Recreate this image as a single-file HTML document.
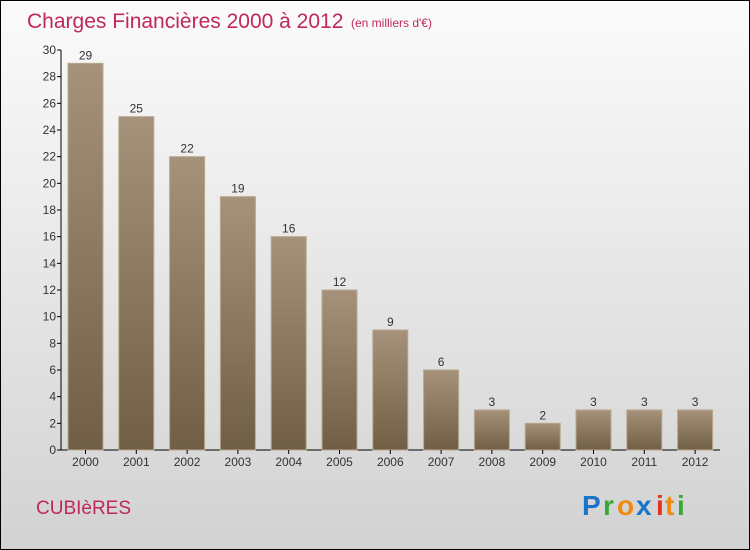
<!DOCTYPE html>
<html><head><meta charset="utf-8"><style>
body{margin:0;}
#wrap{position:relative;width:748px;height:548px;border:1px solid #000;background:linear-gradient(#fbfbfb,#d2d2d2);font-family:"Liberation Sans",sans-serif;overflow:hidden;}
</style></head><body>
<div id="wrap">
<svg width="748" height="548" viewBox="1 1 748 548">
<defs><linearGradient id="bg" x1="0" y1="0" x2="0" y2="1"><stop offset="0" stop-color="#a6927a"/><stop offset="1" stop-color="#705f45"/></linearGradient></defs>
<text x="27" y="28" font-size="21" fill="#c0275a">Charges Financières 2000 à 2012</text>
<text x="351" y="27" font-size="12" fill="#c0275a">(en milliers d'€)</text>
<g id="plot"></g>
<text x="36" y="514" font-size="19" fill="#c0275a">CUBIèRES</text>
<g font-size="28" font-weight="bold">
<text x="582" y="515" fill="#1a74c8">P</text><text x="603" y="515" fill="#38a838">r</text><text x="617" y="515" fill="#f08a10">o</text><text x="636" y="515" fill="#1a74c8">x</text><text x="656" y="515" fill="#e03020">i</text><text x="665" y="515" fill="#f08a10">t</text><text x="677" y="515" fill="#38a838">i</text>
</g>
</svg>
</div>
<script>
const years=["2000","2001","2002","2003","2004","2005","2006","2007","2008","2009","2010","2011","2012"];
const values=[29,25,22,19,16,12,9,6,3,2,3,3,3];
const yTicks=[0,2,4,6,8,10,12,14,16,18,20,22,24,26,28,30];
const NS="http://www.w3.org/2000/svg";
const g=document.getElementById('plot');
const y=v=>450-v*(400/30);
const x=i=>85.5+i*50.8;
function mk(t,a,txt){const e=document.createElementNS(NS,t);for(const k in a)e.setAttribute(k,a[k]);if(txt!==undefined)e.textContent=txt;g.appendChild(e);return e;}
let ax=mk('line',{x1:61,y1:50,x2:61,y2:450,stroke:'#000'});


let bx=mk('line',{x1:61,y1:450,x2:720,y2:450,stroke:'#000'});


yTicks.forEach(t=>{
 let l=mk('line',{x1:57,y1:y(t),x2:61,y2:y(t),stroke:'#000'});
 
 
 let tx=mk('text',{x:56,y:y(t)+4,'font-size':12,fill:'#333','text-anchor':'end'},t);
 
 
});
years.forEach((yr,i)=>{
 const v=values[i];
 let r=mk('rect',{x:x(i)-17.5,y:y(v),width:35,height:450-y(v),fill:'url(#bg)',stroke:'#b8a88e','stroke-width':1});
 
 
 let vl=mk('text',{x:x(i),y:y(v)-4,'font-size':12,fill:'#333','text-anchor':'middle'},v);
 
 
 let tk=mk('line',{x1:x(i),y1:450,x2:x(i),y2:454,stroke:'#000'});
 
 
 let xl=mk('text',{x:x(i),y:466,'font-size':12,fill:'#333','text-anchor':'middle'},yr);
 
 
});
</script>
</body></html>
